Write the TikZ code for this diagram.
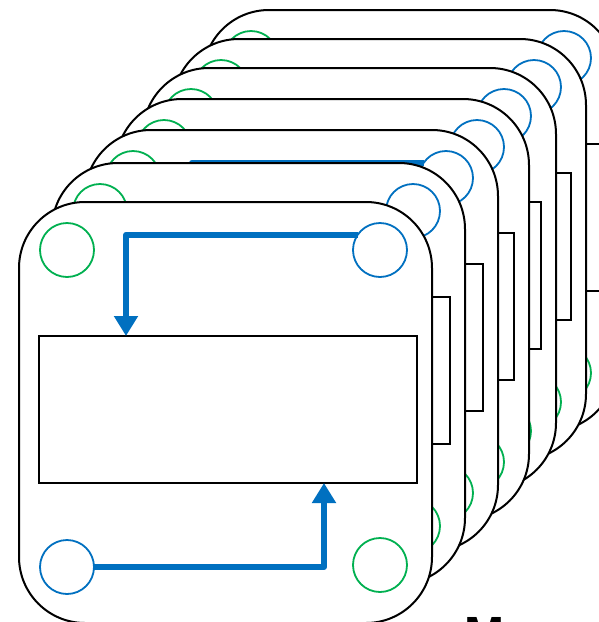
\documentclass[tikz,border=0pt]{standalone}
\usepackage{fontspec}
\setmainfont{Liberation Sans}
\usetikzlibrary{arrows.meta}
\definecolor{cblue}{HTML}{0070C0}
\definecolor{cgreen}{HTML}{00B050}
\begin{document}
\begin{tikzpicture}[x=1pt,y=-1pt,
 cardbox/.style={draw=black, line width=2pt, fill=white, rounded corners=66pt, minimum width=413pt, minimum height=421pt, inner sep=0pt, outer sep=0pt},
 gring/.style={circle, draw=cgreen, line width=1.8pt, minimum size=54pt, inner sep=0pt, outer sep=0pt},
 bring/.style={gring, draw=cblue},
 panel/.style={draw=black, line width=1.8pt, minimum width=378pt, minimum height=147pt, inner sep=0pt, outer sep=0pt},
 flow/.style={draw=cblue, line width=6pt, line join=round, -{Triangle[length=20pt,width=23pt]}}]
\useasboundingbox (0,0) rectangle (598,622);
\foreach \i/\L/\T/\A in {7/203/10/0, 6/173/39/0, 5/143/68/0, 4/116/99/0, 3/85/130/1, 2/52/163/0, 1/19/202/1} {
 \begin{scope}[shift={(\L,\T)}]
  \node[cardbox] (card\i) at (206.5,210.5) {};
  \node[gring] (gtl\i) at (48,48) {};
  \node[bring] (btr\i) at (361,48) {};
  \node[bring] (bbl\i) at (48,365) {};
  \node[gring] (gbr\i) at (361,363) {};
  \node[panel] (panel\i) at (209,207.5) {};
  \ifnum\A=1
   \draw[flow] (btr\i.146) -| ([xshift=87pt]panel\i.north west);
   \draw[flow] (bbl\i.east) -| ([xshift=285pt]panel\i.south west);
  \fi
 \end{scope}
}
\node[anchor=north west, inner sep=0pt, font=\fontsize{48}{48}\selectfont\bfseries] (title) at (464,617) {M};
\end{tikzpicture}
\end{document}
